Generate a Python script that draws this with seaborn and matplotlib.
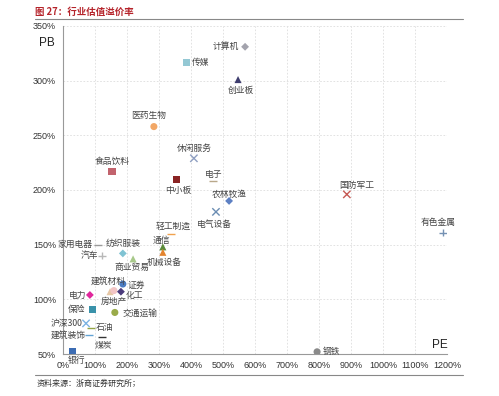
import matplotlib
matplotlib.use("Agg")
import matplotlib.pyplot as plt
import seaborn as sns
import pandas as pd
from matplotlib.lines import Line2D

sns.set_theme(style="white")
plt.rcParams['font.family'] = ['Noto Sans CJK SC', 'DejaVu Sans']

# ---- data ----
names = ["计算机", "传媒", "创业板", "医药生物", "食品饮料", "休闲服务", "中小板", "电子",
         "农林牧渔", "电气设备", "轻工制造", "通信", "机械设备", "国防军工", "有色金属", "钢铁",
         "家用电器", "纺织服装", "汽车", "商业贸易", "建筑材料", "房地产", "证券", "化工",
         "电力", "保险", "交通运输", "沪深300", "石油", "建筑装饰", "煤炭", "银行"]
pe = [569, 387, 547, 284, 153, 409, 356, 469,
      519, 478, 337, 312, 312, 887, 1187, 794,
      109, 187, 122, 219, 147, 159, 187, 181,
      84, 91, 162, 72, 87, 81, 122, 31]
pb = [331, 317, 301, 258, 217, 229, 210, 208,
      190, 180, 160, 148, 143, 196, 161, 52,
      150, 142, 140, 137, 107, 108, 114, 107,
      104, 91, 88, 78, 74, 67, 66, 52]
x_ticks = [0, 100, 200, 300, 400, 500, 600, 700, 800, 900, 1000, 1100, 1200]
y_ticks = [50, 100, 150, 200, 250, 300, 350]

markers = ["D", "s", "^", "o", "s", "x", "s", "_",
           "D", "x", "_", "^", "^", "x", "+", "o",
           "_", "D", "+", "^", "^", "o", "o", "D",
           "D", "s", "o", "x", "_", "_", "_", "s"]
colors = ["#a3a3ad", "#94c8d4", "#3e3d6e", "#f2a766", "#c2636d", "#8f9fc2", "#8a2424", "#b9a88a",
          "#5d80c3", "#6b8db3", "#f0a24e", "#5b8b3b", "#e3842f", "#c65a55", "#7591b3", "#8a8a8a",
          "#9a9a9a", "#80c3d3", "#b8b8b8", "#a8c98a", "#e6c7a6", "#f2c5c5", "#4a7bc2", "#4b3b7c",
          "#e0279c", "#3a92aa", "#9aab4a", "#7cb3e3", "#93a445", "#62a3d4", "#333333", "#3c6cb3"]
# label placement: (dx px, dy px, ha)
offsets = [(-6, 0, "right"), (5, 0, "left"), (3, -11, "center"), (-5, 11, "center"),
           (0, 10, "center"), (0, 10, "center"), (1, -11, "center"), (1, 7, "center"),
           (0, 7, "center"), (-2, -13, "center"), (2, 7, "center"), (-1, 6, "center"),
           (1, -10, "center"), (10, 9, "center"), (-5, 10, "center"), (6, 0, "left"),
           (-5, 0, "right"), (0, 10, "center"), (-4, 0, "right"), (-1, -9, "center"),
           (-2, 10, "center"), (0, -11, "center"), (5, -1, "left"), (5, -4, "left"),
           (-3, 0, "right"), (-7, 0, "right"), (8, -1, "left"), (-3, 0, "right"),
           (5, 0, "left"), (-3, 0, "right"), (1, -9, "center"), (4, -9, "center")]

df = pd.DataFrame({"name": names, "PE": pe, "PB": pb, "marker": markers})
palette = dict(zip(names, colors))
line_art = {"x", "+", "_"}

fig = plt.figure(figsize=(4.99, 3.96), dpi=100)
ax = fig.add_axes([63 / 499, 1 - 354 / 396, (447 - 63) / 499, (354 - 26) / 396])

diam = df[df["marker"] == "D"]
filled = df[~df["marker"].isin(line_art | {"D"})]
lines = df[df["marker"].isin(line_art)]
sns.scatterplot(data=filled, x="PE", y="PB", hue="name", style="name",
                palette=palette, markers=dict(zip(filled["name"], filled["marker"])),
                s=26, linewidth=0, legend=False, ax=ax, zorder=3)
sns.scatterplot(data=diam, x="PE", y="PB", hue="name", style="name",
                palette=palette, markers=dict(zip(diam["name"], diam["marker"])),
                s=16, linewidth=0, legend=False, ax=ax, zorder=3)
sns.scatterplot(data=lines, x="PE", y="PB", hue="name", style="name",
                palette=palette, markers=dict(zip(lines["name"], lines["marker"])),
                s=28, linewidth=1.0, legend=False, ax=ax, zorder=3)

for n, xv, yv, (dx, dy, ha) in zip(names, pe, pb, offsets):
    ax.annotate(n, (xv, yv), xytext=(dx, dy), textcoords="offset pixels",
                ha=ha, va="center", fontsize=6.3, color="#444444", zorder=4)

ax.set_xlim(0, 1200)
ax.set_ylim(50, 350)
ax.set_xticks(x_ticks)
ax.set_yticks(y_ticks)
ax.set_xticklabels([f"{t}%" for t in x_ticks], family=["Liberation Sans", "DejaVu Sans"])
ax.set_yticklabels([f"{t}%" for t in y_ticks], family=["Liberation Sans", "DejaVu Sans"])
ax.tick_params(axis="both", labelsize=6.5, length=3, width=0.6,
               direction="out", pad=2)
ax.tick_params(axis="x", colors="#999999", labelcolor="#333333")
ax.tick_params(axis="y", colors="#999999", labelcolor="#333333")
ax.grid(True, color="#dddddd", linestyle=(0, (2, 2)), linewidth=0.6)
ax.set_axisbelow(True)
for s in ["top", "right"]:
    ax.spines[s].set_visible(False)
for s in ["left", "bottom"]:
    ax.spines[s].set_color("#999999")
    ax.spines[s].set_linewidth(0.8)
ax.set_xlabel("")
ax.set_ylabel("")
ax.set_facecolor("white")

fig.text(47 / 499, 1 - 43 / 396, "PB", fontsize=8.5, color="#222222", ha="center", va="center",
         family=["Liberation Sans", "DejaVu Sans"])
fig.text(440 / 499, 1 - 345 / 396, "PE", fontsize=8.5, color="#222222", ha="center", va="center",
         family=["Liberation Sans", "DejaVu Sans"])

fig.text(35 / 499, 1 - 12 / 396, "图 27：行业估值溢价率", fontsize=6.8, color="#b5232a",
         fontweight="bold", ha="left", va="center")
fig.add_artist(Line2D([35 / 499, 463 / 499], [1 - 19 / 396, 1 - 19 / 396],
                      color="#888888", linewidth=0.8, transform=fig.transFigure))
fig.add_artist(Line2D([35 / 499, 463 / 499], [1 - 375 / 396, 1 - 375 / 396],
                      color="#888888", linewidth=0.8, transform=fig.transFigure))
fig.text(37 / 499, 1 - 383 / 396, "资料来源：浙商证券研究所；", fontsize=5.8, color="#333333",
         ha="left", va="center")

fig.savefig("out.png", dpi=100, facecolor="white")
